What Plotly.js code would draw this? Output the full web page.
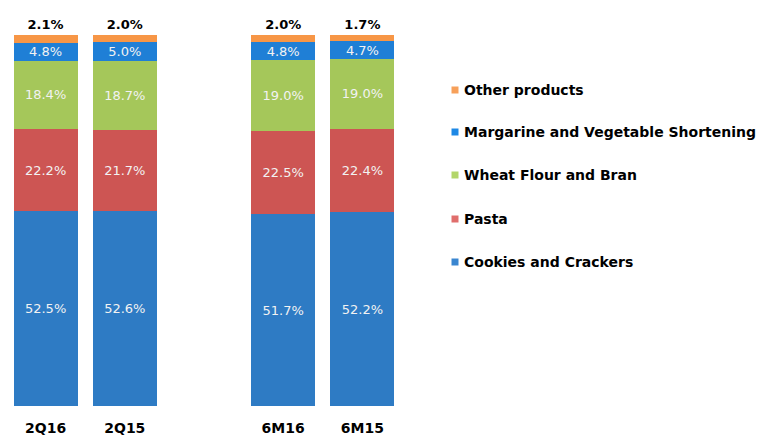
<!DOCTYPE html>
<html><head><meta charset="utf-8">
<script src="https://cdn.plot.ly/plotly-3.0.1.min.js"></script>
<style>html,body{margin:0;padding:0;background:#fff}</style>
</head><body>
<div id="chart" style="width:766px;height:436px"></div>
<script>
const categories = ["2Q16", "2Q15", " ", "6M16", "6M15"];
const seriesNames = ["Cookies and Crackers", "Pasta", "Wheat Flour and Bran", "Margarine and Vegetable Shortening", "Other products"];
const cookies   = [52.5, 52.6, null, 51.7, 52.2];
const pasta     = [22.2, 21.7, null, 22.5, 22.4];
const flour     = [18.4, 18.7, null, 19.0, 19.0];
const margarine = [4.8, 5.0, null, 4.8, 4.7];
const other     = [2.1, 2.0, null, 2.0, 1.7];
const barColors    = ["#2E7BC4", "#CD5553", "#A5C75A", "#1F7FD6", "#F79646"];
const legendColors = ["#3A86D0", "#E06E6C", "#B3D66A", "#1E88E5", "#F7A05A"];

const values = [cookies, pasta, flour, margarine, other];
const fmt = v => v == null ? "" : v.toFixed(1) + "%";
const FONT = "DejaVu Sans, Verdana, sans-serif";

const traces = values.map((vals, i) => {
  const isTop = i === values.length - 1;
  return {
    type: "bar",
    name: seriesNames[i],
    x: categories,
    y: vals,
    marker: {color: barColors[i], line: {width: 0}},
    text: vals.map(fmt),
    textposition: isTop ? "outside" : "inside",
    insidetextanchor: "middle",
    textangle: 0,
    constraintext: "none",
    cliponaxis: false,
    textfont: isTop
      ? {family: FONT, size: 13, color: "#000", weight: "bold"}
      : {family: FONT, size: 13, color: "#F2F2F2"},
    hoverinfo: "none",
    showlegend: false
  };
});

const W = 766, H = 436;
const mL = 6, mR = 364, mT = 35, mB = 30;
const pw = W - mL - mR, ph = H - mT - mB;
const px2x = p => (p - mL) / pw;
const py2y = p => (H - mB - p) / ph;

const legendY = [262, 219, 175, 132, 90];
const shapes = [], annotations = [];
seriesNames.forEach((n, i) => {
  const cy = legendY[i], cx = 455, s = 3.5;
  shapes.push({type: "rect", xref: "paper", yref: "paper",
    x0: px2x(cx - s), x1: px2x(cx + s), y0: py2y(cy + s), y1: py2y(cy - s),
    fillcolor: legendColors[i], line: {width: 0}});
  annotations.push({xref: "paper", yref: "paper", x: px2x(462), y: py2y(cy),
    xanchor: "left", yanchor: "middle", showarrow: false, text: n,
    font: {family: FONT, size: 14, color: "#000", weight: "bold"}});
});

const layout = {
  width: W, height: H,
  margin: {l: mL, r: mR, t: mT, b: mB, pad: 0},
  barmode: "stack",
  bargap: 0.19,
  showlegend: false,
  paper_bgcolor: "#fff", plot_bgcolor: "#fff",
  xaxis: {type: "category", range: [-0.5, 4.5], showgrid: false, zeroline: false, showline: false,
    ticks: "", ticklabelstandoff: 12,
    tickfont: {family: FONT, size: 14, color: "#000", weight: "bold"}},
  yaxis: {range: [0, 100], visible: false, showgrid: false, zeroline: false},
  shapes: shapes,
  annotations: annotations
};

Plotly.newPlot("chart", traces, layout, {displayModeBar: false, staticPlot: true});
</script>
</body></html>
